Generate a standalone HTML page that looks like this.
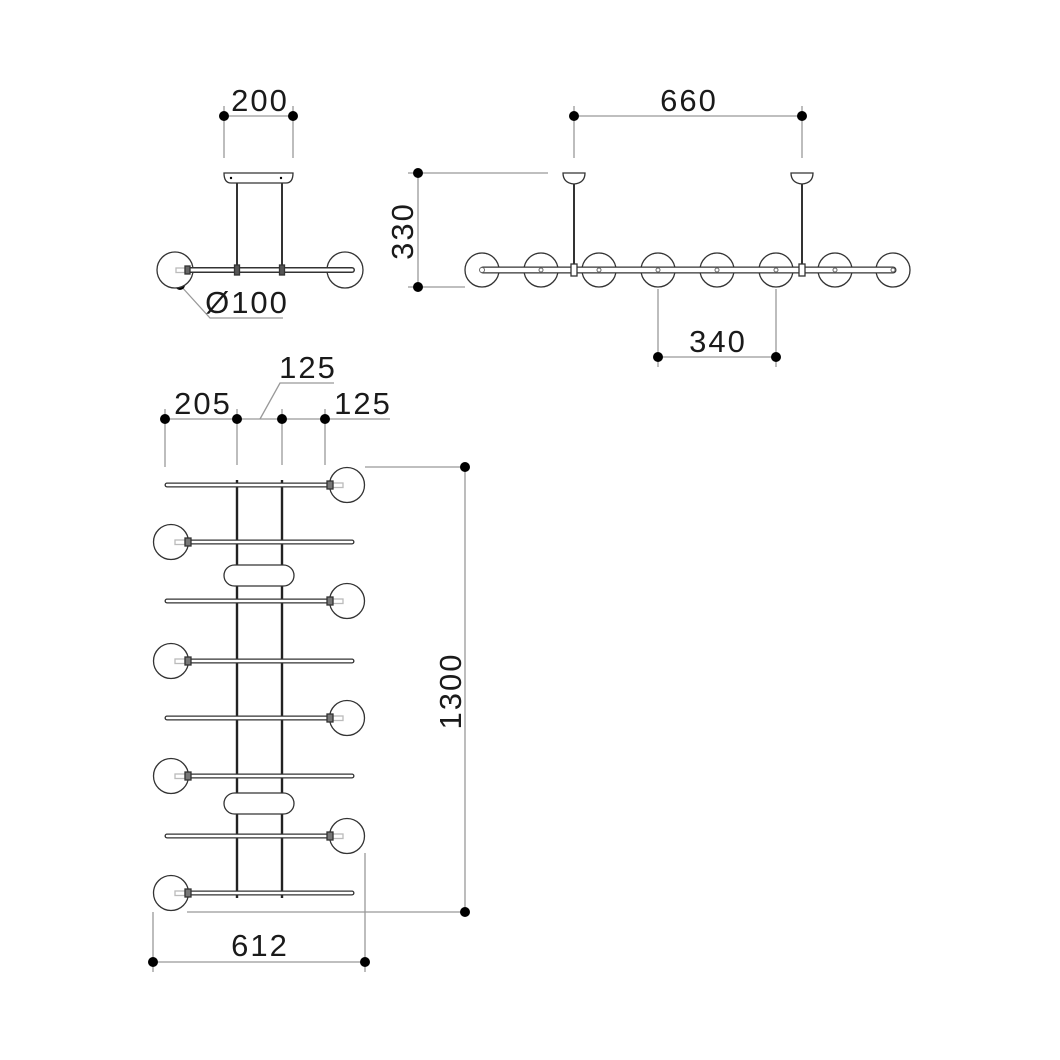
<!DOCTYPE html>
<html><head><meta charset="utf-8"><style>
html,body{margin:0;padding:0;background:#fff;}
svg{display:block;}
text{font-family:"Liberation Sans",sans-serif;font-size:31px;letter-spacing:2px;fill:#1a1a1a;}
</style></head><body>
<svg width="1060" height="1060" viewBox="0 0 1060 1060" xmlns="http://www.w3.org/2000/svg">
<g stroke="#999" stroke-width="1.3" fill="none">
<line x1="224" y1="116" x2="293" y2="116"/>
<line x1="224" y1="106" x2="224" y2="158"/>
<line x1="293" y1="106" x2="293" y2="158"/>
<polyline points="180,285 210,318 283,318"/>
<line x1="574" y1="116" x2="802" y2="116"/>
<line x1="574" y1="106" x2="574" y2="158"/>
<line x1="802" y1="106" x2="802" y2="158"/>
<line x1="418" y1="173" x2="418" y2="287"/>
<line x1="408" y1="173" x2="548" y2="173"/>
<line x1="408" y1="287" x2="465" y2="287"/>
<line x1="658" y1="357" x2="776" y2="357"/>
<line x1="658" y1="289" x2="658" y2="367"/>
<line x1="776" y1="289" x2="776" y2="367"/>
<line x1="165" y1="419" x2="390" y2="419"/>
<line x1="165" y1="409" x2="165" y2="467"/>
<line x1="237" y1="409" x2="237" y2="465"/>
<line x1="282" y1="409" x2="282" y2="465"/>
<line x1="325" y1="409" x2="325" y2="465"/>
<polyline points="260,419 280,383 334,383"/>
<line x1="365" y1="467" x2="465" y2="467"/>
<line x1="465" y1="467" x2="465" y2="912"/>
<line x1="187" y1="912" x2="465" y2="912"/>
<line x1="153" y1="912" x2="153" y2="972"/>
<line x1="365" y1="853" x2="365" y2="972"/>
<line x1="153" y1="962" x2="365" y2="962"/>
</g>
<g fill="#000">
<circle cx="224" cy="116" r="5"/><circle cx="293" cy="116" r="5"/>
<circle cx="180" cy="285" r="5"/>
<circle cx="574" cy="116" r="5"/><circle cx="802" cy="116" r="5"/>
<circle cx="418" cy="173" r="5"/><circle cx="418" cy="287" r="5"/>
<circle cx="658" cy="357" r="5"/><circle cx="776" cy="357" r="5"/>
<circle cx="165" cy="419" r="5"/><circle cx="237" cy="419" r="5"/><circle cx="282" cy="419" r="5"/><circle cx="325" cy="419" r="5"/>
<circle cx="465" cy="467" r="5"/><circle cx="465" cy="912" r="5"/>
<circle cx="153" cy="962" r="5"/><circle cx="365" cy="962" r="5"/>
</g>
<text x="260" y="111" text-anchor="middle">200</text>
<text x="247" y="313" text-anchor="middle">Ø100</text>
<text x="689" y="111" text-anchor="middle">660</text>
<text x="718" y="352" text-anchor="middle">340</text>
<text x="0" y="0" text-anchor="middle" transform="translate(413,231) rotate(-90)">330</text>
<text x="203" y="414" text-anchor="middle">205</text>
<text x="308" y="378" text-anchor="middle">125</text>
<text x="363" y="414" text-anchor="middle">125</text>
<text x="0" y="0" text-anchor="middle" transform="translate(461,691) rotate(-90)">1300</text>
<text x="260" y="956" text-anchor="middle">612</text>

<g stroke="#333" stroke-width="1.3" fill="#fff">
<path d="M224,173 L293,173 Q293,183 286,183 L231,183 Q224,183 224,173Z"/>
<line x1="237" y1="183" x2="237" y2="270" stroke-width="2"/>
<line x1="282" y1="183" x2="282" y2="270" stroke-width="2"/>
<circle cx="175" cy="270" r="18"/>
<circle cx="345" cy="270" r="18"/>
<line x1="190" y1="270" x2="352" y2="270" stroke="#333" stroke-width="6" stroke-linecap="round"/>
<line x1="190" y1="270" x2="352" y2="270" stroke="#fff" stroke-width="3" stroke-linecap="round"/>
<rect x="176" y="268" width="9" height="4.5" fill="#fff" stroke="#bbb"/>
<rect x="185" y="266" width="5" height="8" fill="#666" stroke="#333"/>
<rect x="234.5" y="265" width="5" height="10" fill="#555" stroke="#333"/>
<rect x="279.5" y="265" width="5" height="10" fill="#555" stroke="#333"/>
</g>
<circle cx="231" cy="178" r="1.2" fill="#000"/><circle cx="281" cy="178" r="1.2" fill="#000"/>

<g stroke="#333" stroke-width="1.3" fill="#fff">
<path d="M563,173 L585,173 Q585,183 574,184 Q563,183 563,173Z"/>
<path d="M791,173 L813,173 Q813,183 802,184 Q791,183 791,173Z"/>
<line x1="574" y1="184" x2="574" y2="276" stroke-width="2"/>
<line x1="802" y1="184" x2="802" y2="276" stroke-width="2"/>
<circle cx="482" cy="270" r="17"/><circle cx="541" cy="270" r="17"/>
<circle cx="599" cy="270" r="17"/><circle cx="658" cy="270" r="17"/>
<circle cx="717" cy="270" r="17"/><circle cx="776" cy="270" r="17"/>
<circle cx="835" cy="270" r="17"/><circle cx="893" cy="270" r="17"/>
<line x1="483" y1="270" x2="893" y2="270" stroke-width="7" stroke-linecap="round"/>
<line x1="483" y1="270" x2="893" y2="270" stroke="#fff" stroke-width="4.4" stroke-linecap="round"/>
<rect x="571" y="264" width="6" height="12"/>
<rect x="799" y="264" width="6" height="12"/>
</g>
<g fill="#fff" stroke="#666" stroke-width="1">
<circle cx="482" cy="270" r="2.5"/><circle cx="541" cy="270" r="2"/><circle cx="599" cy="270" r="2"/><circle cx="658" cy="270" r="2"/>
<circle cx="717" cy="270" r="2"/><circle cx="776" cy="270" r="2"/><circle cx="835" cy="270" r="2"/><circle cx="893" cy="270" r="2"/>
</g>

<g stroke="#222" stroke-width="2.4">
<line x1="237" y1="480" x2="237" y2="898"/>
<line x1="282" y1="480" x2="282" y2="898"/>
</g>
<g stroke="#333" stroke-width="1.3" fill="#fff">
<rect x="224" y="565" width="70" height="21" rx="10.5"/>
<rect x="224" y="793" width="70" height="21" rx="10.5"/>
</g>
<g stroke="#333" stroke-width="1.3" fill="none">
<g id="rrow">
<circle cx="347" cy="485" r="17.5" fill="#fff"/>
<line x1="167" y1="485" x2="330" y2="485" stroke-width="5" stroke-linecap="round"/>
<line x1="167" y1="485" x2="330" y2="485" stroke="#fff" stroke-width="2.4" stroke-linecap="round"/>
<rect x="333" y="483" width="10" height="4.5" stroke="#bbb" fill="#fff"/>
<rect x="327" y="481" width="6" height="8" fill="#777"/>
</g>
<use href="#rrow" y="116"/>
<use href="#rrow" y="233"/>
<use href="#rrow" y="351"/>
<g id="lrow">
<circle cx="171" cy="542" r="17.5" fill="#fff"/>
<line x1="190" y1="542" x2="352" y2="542" stroke-width="5" stroke-linecap="round"/>
<line x1="190" y1="542" x2="352" y2="542" stroke="#fff" stroke-width="2.4" stroke-linecap="round"/>
<rect x="175" y="540" width="10" height="4.5" stroke="#bbb" fill="#fff"/>
<rect x="185" y="538" width="6" height="8" fill="#777"/>
</g>
<use href="#lrow" y="119"/>
<use href="#lrow" y="234"/>
<use href="#lrow" y="351"/>
</g>
</svg>
</body></html>
